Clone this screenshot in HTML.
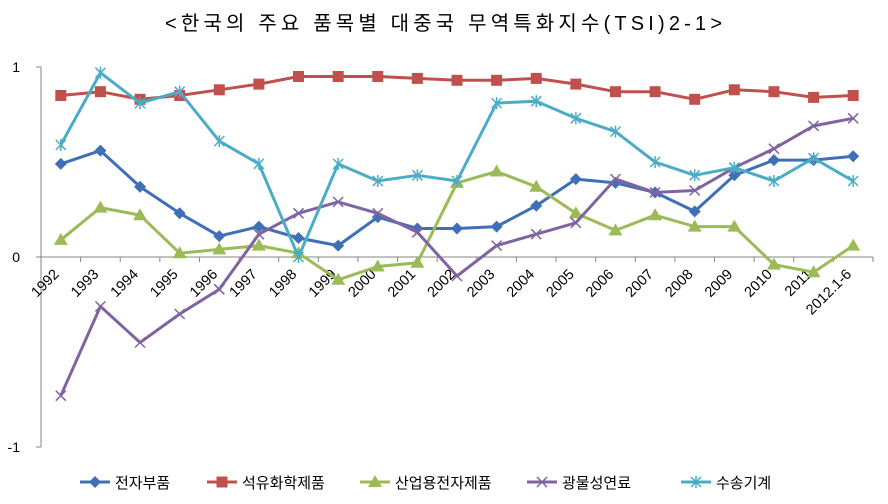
<!DOCTYPE html>
<html><head><meta charset="utf-8">
<style>
body{margin:0;background:#fff;}
svg{display:block;font-family:"Liberation Sans","Noto Sans CJK KR",sans-serif;}
</style></head>
<body>
<svg id="chart" width="888" height="504" viewBox="0 0 888 504">
<text x="165" y="30" font-size="20" fill="#000" textLength="557" lengthAdjust="spacing">&lt;한국의 주요 품목별 대중국 무역특화지수(TSI)2-1&gt;</text>
<g id="axes"></g>
<g id="series"></g>
<g id="legend"></g>
</svg>
<script>
const categories=["1992","1993","1994","1995","1996","1997","1998","1999","2000","2001","2002","2003","2004","2005","2006","2007","2008","2009","2010","2011","2012.1-6"];
const seriesNames=["전자부품","석유화학제품","산업용전자제품","광물성연료","수송기계"];
const electronics=[0.49,0.56,0.37,0.23,0.11,0.16,0.10,0.06,0.21,0.15,0.15,0.16,0.27,0.41,0.39,0.34,0.24,0.43,0.51,0.51,0.53];
const petrochem=[0.85,0.87,0.83,0.85,0.88,0.91,0.95,0.95,0.95,0.94,0.93,0.93,0.94,0.91,0.87,0.87,0.83,0.88,0.87,0.84,0.85];
const industrial=[0.09,0.26,0.22,0.02,0.04,0.06,0.02,-0.12,-0.05,-0.03,0.39,0.45,0.37,0.23,0.14,0.22,0.16,0.16,-0.04,-0.08,0.06];
const fuel=[-0.73,-0.26,-0.45,-0.30,-0.17,0.12,0.23,0.29,0.23,0.13,-0.10,0.06,0.12,0.18,0.41,0.34,0.35,0.47,0.57,0.69,0.73];
const transport=[0.59,0.97,0.81,0.87,0.61,0.49,0.00,0.49,0.40,0.43,0.40,0.81,0.82,0.73,0.66,0.50,0.43,0.47,0.40,0.52,0.40];
const yTicks=[1,0,-1];

const NS="http://www.w3.org/2000/svg";
const x0=41,x1=873,yTop=67,yBot=447;
const band=(x1-x0)/categories.length;
const X=i=>x0+band*(i+0.5);
const Y=v=>257-v*(yBot-yTop)/2;
function mk(t,a,p){const e=document.createElementNS(NS,t);for(const k in a)e.setAttribute(k,a[k]);p.appendChild(e);return e;}
const axes=document.getElementById('axes');
const al=mk('line',{x1:x0,y1:yTop,x2:x0,y2:yBot,stroke:'#868686','stroke-width':1},axes);


yTicks.forEach(v=>{
  mk('line',{x1:x0-5,y1:Y(v),x2:x0,y2:Y(v),stroke:'#868686'},axes);
  const t=mk('text',{x:20,y:Y(v)+5,'text-anchor':'end','font-size':14,fill:'#000'},axes);
  t.textContent=v;
  
  
});
const xl=mk('line',{x1:x0,y1:Y(0),x2:x1,y2:Y(0),stroke:'#868686'},axes);


for(let i=0;i<=categories.length;i++)mk('line',{x1:x0+band*i,y1:Y(0),x2:x0+band*i,y2:Y(0)+5,stroke:'#868686'},axes);
categories.forEach((c,i)=>{
  const cx=X(i)-1,cy=Y(0)+18;
  const t=mk('text',{x:cx,y:cy,'text-anchor':'end','font-size':14.5,fill:'#000',transform:`rotate(-45 ${cx} ${cy})`},axes);
  t.textContent=c;
  
  
});
const colors=["#3F6FB6","#C0504D","#9BBB59","#8064A2","#4BACC6"];
const markers=["diamond","square","triangle","x","star"];
const data=[electronics,petrochem,industrial,fuel,transport];
function marker(type,x,y,c,g){
  if(type==='diamond')mk('polygon',{points:`${x},${y-6} ${x+6},${y} ${x},${y+6} ${x-6},${y}`,fill:c},g);
  else if(type==='square')mk('rect',{x:x-5.5,y:y-5.5,width:11,height:11,fill:c},g);
  else if(type==='triangle')mk('polygon',{points:`${x},${y-7} ${x+7},${y+5} ${x-7},${y+5}`,fill:c},g);
  else if(type==='x'){mk('path',{d:`M${x-5},${y-5}L${x+5},${y+5}M${x-5},${y+5}L${x+5},${y-5}`,stroke:c,'stroke-width':1.5},g);}
  else {mk('path',{d:`M${x-5},${y-5}L${x+5},${y+5}M${x-5},${y+5}L${x+5},${y-5}M${x},${y-6}L${x},${y+6}`,stroke:c,'stroke-width':1.5},g);}
}
const sg=document.getElementById('series');
data.forEach((arr,s)=>{
  const g=mk('g',{},sg);
  
  
  const pl=mk('polyline',{points:arr.map((v,i)=>X(i)+','+Y(v)).join(' '),fill:'none',stroke:colors[s],'stroke-width':3,'stroke-linejoin':'round'},g);
  
  
  arr.forEach((v,i)=>marker(markers[s],X(i),Y(v),colors[s],g));
});
const lg=document.getElementById('legend');
const lx=[80,207,360,527,681];
seriesNames.forEach((n,s)=>{
  const g=mk('g',{},lg);
  
  
  mk('line',{x1:lx[s],y1:482,x2:lx[s]+30,y2:482,stroke:colors[s],'stroke-width':3},g);
  marker(markers[s],lx[s]+15,482,colors[s],g);
  const t=mk('text',{x:lx[s]+35,y:488,'font-size':15,fill:'#000'},g);
  t.textContent=n;
});
</script>
</body></html>
